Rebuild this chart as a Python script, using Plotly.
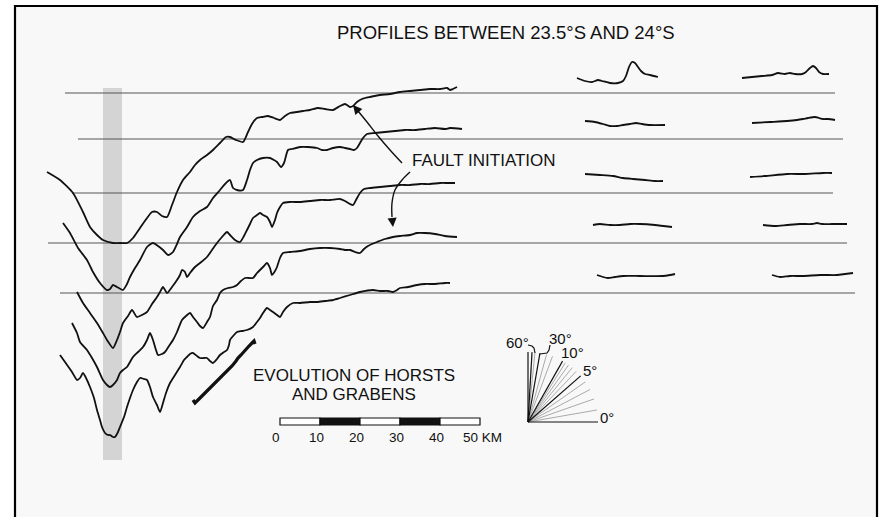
"""
Bathymetric profiles across the trench, 23.5S-24S, with fault initiation notes.
"""
import numpy as np
import plotly.graph_objects as go

# distance along profile (km) and relief above the profile's reference line (m)
P1_KM = [-58.25, -55, -51.75, -49.25, -47.5, -45.75, -44.25, -41.75, -40, -38.25, -36.75, -35, -33.25, -32,
         -30.75, -29.5, -28.25, -27, -25.75, -24.25, -22.5, -21.25, -20, -18.25, -16.75, -15, -13.5, -12.5,
         -11, -9.25, -8, -7, -5.75, -4.5, -3, -1.5, 0, 1.25, 2.5, 4.25, 5.75, 7.5, 9.5, 11.25, 13.25, 15,
         16.25, 17.5, 18.25, 19.25, 20.5, 22.5, 25, 27.5, 30, 32.5, 35, 37.5, 40, 41.75, 42.5, 43.25, 44.25]
P1_M = [-1975, -2175, -2500, -2975, -3350, -3550, -3675, -3750, -3750, -3750, -3625, -3375, -3125, -2975,
        -2975, -3075, -3100, -2800, -2475, -2175, -1975, -1800, -1675, -1550, -1425, -1250, -1100, -1100,
        -1175, -1225, -975, -775, -625, -600, -575, -625, -675, -575, -500, -475, -450, -425, -375, -400,
        -425, -325, -275, -350, -325, -225, -150, -100, -50, -25, 25, 50, 75, 100, 100, 125, 75, 100, 150]

P2_KM = [-54.25, -52.5, -50.5, -48.25, -46.75, -45, -43.25, -42.5, -41.75, -40.75, -39.25, -38.25, -37.5,
         -36.25, -35, -33.25, -31.75, -30.5, -29.25, -28, -26.75, -25.75, -25, -23.25, -21.75, -20, -18.25,
         -16.75, -15, -13.75, -12.5, -11.75, -10.75, -9.25, -8.25, -7.5, -6.75, -5.75, -4.25, -2.5, -1.5,
         -0.75, 0.25, 1, 2, 3, 5, 7, 9.25, 10.5, 11.75, 13.25, 15, 16.25, 17.5, 18.5, 19.25, 20, 20.75,
         21.75, 23.75, 26.25, 28.75, 31.25, 33.75, 36.25, 38.75, 41.25, 42.5, 45.5]
P2_M = [-2100, -2350, -2725, -3025, -3325, -3600, -3775, -3750, -3650, -3700, -3775, -3625, -3450, -3225,
        -3025, -2700, -2600, -2675, -2775, -2900, -2825, -2625, -2450, -2200, -1950, -1800, -1700, -1475,
        -1275, -1125, -1025, -1225, -1275, -1275, -1025, -775, -600, -525, -475, -475, -525, -575, -700,
        -600, -275, -250, -200, -200, -225, -275, -275, -225, -200, -225, -250, -275, -225, -100, 25, 125,
        150, 175, 200, 225, 225, 250, 275, 250, 275, 250]

P3_KM = [-50.75, -49.25, -47.5, -45.75, -44.25, -43.25, -41.75, -40.75, -40, -39.25, -38, -37, -35.75,
         -34.5, -33.25, -32, -30.75, -30, -29.25, -28.75, -28.25, -27, -25.75, -25, -24.5, -23.75, -23.25,
         -22.5, -21.25, -20, -18.25, -17, -15.75, -14.5, -13.25, -12.5, -11.25, -10, -9, -8.25, -7.5, -6.75,
         -5.75, -5, -4.25, -3.25, -2.5, -2, -1.25, -0.75, 0, 0.75, 2.5, 5, 7.5, 10, 12.5, 15, 16.25, 17.5,
         18.25, 19, 20, 21, 22.5, 25, 27.5, 30, 32.5, 35, 37.5, 40, 42, 43.75]
P3_M = [-2475, -2750, -3000, -3250, -3500, -3675, -3875, -3675, -3475, -3250, -3075, -2925, -3100, -3050,
        -2975, -2775, -2600, -2475, -2350, -2425, -2500, -2350, -2175, -2050, -1925, -1975, -2100, -2000,
        -1850, -1750, -1600, -1425, -1250, -1100, -975, -1050, -1175, -1225, -1075, -925, -775, -625, -550,
        -500, -550, -600, -725, -850, -675, -500, -350, -250, -225, -225, -200, -175, -175, -150, -200,
        -275, -300, -175, 0, 100, 125, 150, 175, 200, 200, 225, 225, 250, 250, 250]

P4_KM = [-52, -50.75, -50, -48.25, -47, -45.75, -44.25, -43.25, -42.5, -41.75, -40.75, -40, -39.25, -38.25,
         -37.5, -36.75, -35.5, -34.25, -33.25, -32.5, -31.75, -31, -30.5, -29.5, -28.75, -27.75, -26.75,
         -25.75, -24.5, -23.5, -22.5, -21.75, -20.75, -20, -19.25, -18.25, -17.5, -16.75, -15.75, -15,
         -14.25, -13, -11.75, -10.75, -9.75, -8.75, -7.75, -6.75, -5.75, -5, -4, -3.25, -2.5, -2, -1.25,
         -0.75, 0, 0.75, 2.5, 5, 7.5, 10, 12.5, 15, 16.25, 17.5, 18.75, 20, 21, 22, 23, 24.25, 26.25, 28.25,
         30, 32.5, 34.25, 36.25, 38.75, 41.25, 44.25]
P4_M = [-2000, -2250, -2475, -2675, -2875, -3100, -3425, -3550, -3600, -3550, -3425, -3250, -3175, -3100,
        -2975, -2850, -2725, -2600, -2425, -2250, -2425, -2675, -2800, -2775, -2725, -2575, -2425, -2225,
        -1925, -1825, -1750, -1850, -1975, -2075, -2125, -1975, -1850, -1575, -1425, -1250, -1175, -1125,
        -1100, -1050, -950, -875, -875, -875, -750, -675, -575, -500, -625, -800, -700, -600, -375, -250,
        -225, -200, -150, -125, -125, -150, -175, -175, -225, -250, -150, -75, -25, 25, 100, 150, 175, 200,
        250, 250, 225, 175, 150]

P5_KM = [-55, -53.75, -52, -50.75, -50, -49.25, -48.25, -47.5, -46.5, -45.75, -45, -44.5, -43.75, -43,
         -42.5, -41.75, -41.25, -40.5, -40, -39, -38.25, -37.5, -36.75, -35.75, -35, -34, -33.25, -32.5,
         -31.75, -30.75, -30, -29.25, -28.5, -27.5, -26.25, -25, -24, -23.25, -22.5, -21.75, -20.75, -20,
         -19, -18.25, -17.5, -16.75, -15.75, -15, -14, -13.25, -12.75, -12.5, -11.5, -10.75, -9.5, -8.25,
         -6.75, -5.75, -5, -4.25, -3.25, -2.5, -1.75, -0.75, 0, 0.75, 1.75, 3.25, 5, 7.5, 9.25, 11.25, 13.25,
         15, 17.5, 20, 23.25, 25, 27, 28.25, 29.25, 30, 32, 34.25, 36.25, 38.75, 41.25, 42.5]
P5_M = [-1550, -1725, -1975, -2175, -2125, -2000, -2175, -2350, -2625, -2925, -3175, -3350, -3500, -3550,
        -3550, -3600, -3600, -3475, -3350, -3100, -2850, -2625, -2425, -2225, -2125, -2150, -2175, -2350,
        -2600, -2800, -2975, -2750, -2500, -2250, -2050, -1850, -1675, -1600, -1525, -1500, -1575, -1625,
        -1625, -1625, -1700, -1750, -1650, -1550, -1475, -1425, -1300, -1175, -1050, -975, -950, -925,
        -850, -725, -625, -500, -375, -425, -475, -550, -600, -475, -350, -250, -250, -225, -225, -200,
        -175, -125, -50, 25, 75, 50, 50, 25, 75, 125, 150, 200, 225, 225, 250, 250]

# short profiles further offshore, two per row (A = inner, B = outer)
R1A_KM = [74.25, 76.25, 78, 79.5, 80.5, 82.5, 84.5, 85.75, 86.5, 87.25, 88, 88.75, 89.5, 90.25, 91.25, 92.5, 94.5]
R1A_M = [375, 300, 275, 325, 300, 250, 250, 300, 425, 650, 775, 750, 650, 550, 475, 450, 400]
R1B_KM = [115.5, 118, 120.5, 123, 124.5, 126.25, 127.5, 128.75, 130.5, 131.5, 132.5, 133.25, 134, 134.75, 135.75, 137.25]
R1B_M = [375, 400, 425, 450, 500, 475, 500, 475, 475, 525, 625, 675, 625, 525, 475, 475]
R2A_KM = [76.25, 78.75, 80.75, 82.5, 84.25, 85.75, 87.5, 89, 90.5, 92.5, 96.25]
R2A_M = [450, 425, 375, 325, 325, 350, 375, 400, 375, 350, 350]
R2B_KM = [118, 122.5, 126.75, 129.25, 130.75, 132, 133.75, 134.75, 135.75, 137, 138.75]
R2B_M = [400, 425, 450, 475, 500, 525, 550, 525, 500, 500, 475]
R3A_KM = [76.25, 80, 83.25, 85.75, 88.25, 91.25, 93.75, 95.75]
R3A_M = [475, 450, 425, 375, 350, 325, 300, 300]
R3B_KM = [117.5, 121.25, 126.75, 131.25, 135.75, 138]
R3B_M = [400, 425, 475, 475, 500, 500]
R4A_KM = [78.25, 80, 82.5, 85, 87.5, 90, 93.75, 98]
R4A_M = [450, 475, 450, 450, 475, 475, 450, 400]
R4B_KM = [120.75, 123.75, 126.75, 130, 133, 134.25, 135.5, 138, 141.75]
R4B_M = [450, 425, 450, 475, 475, 500, 475, 475, 475]
R5A_KM = [79.25, 80.75, 82, 83.75, 85.75, 90, 95.75, 97.5, 98.75]
R5A_M = [450, 400, 375, 400, 425, 425, 425, 450, 475]
R5B_KM = [123, 125, 127.5, 130.75, 135, 139.25, 141.25, 143.25]
R5B_M = [450, 400, 425, 425, 450, 450, 475, 500]

# reference line of each profile
BASE_START_KM = [-53.75, -50.5, -52, -58, -55]
BASE_END_KM = [138.75, 140.75, 138.25, 141.75, 143.75]

# slope fan: true slope angles, vertical exaggeration 10
FAN_BLACK_DEG = [0, 5, 10, 30, 60, 90]
FAN_GRAY_DEG = [1, 2, 3, 4, 6, 7, 8, 9, 15, 20, 45]
FAN_LABELS = ["0°", "5°", "10°", "30°", "60°"]
VERT_EXAG = 10

SCALE_KM = [0, 10, 20, 30, 40, 50]
SCALE_LABELS = ["0", "10", "20", "30", "40", "50 KM"]

# hand-drawn arrows (km, m)
ARROW_UP_KM = [30.5, 27.5, 24.5, 21.75, 19.5, 18.25]
ARROW_UP_M = [-4075, -3750, -3400, -3050, -2775, -2625]
ARROW_DOWN_KM = [32.5, 30.5, 28.75, 28, 28, 28.25]
ARROW_DOWN_M = [-4300, -4500, -4750, -5075, -5425, -5675]
HORST_KM = [-21.75, -21.25, -20.25, -19, -17.75, -16.5, -15.25, -14, -13, -12, -11, -10.5, -9.75, -8.75,
            -7.75, -7, -6.5, -6.25]
HORST_M = [-10000, -10075, -9975, -9850, -9725, -9625, -9500, -9375, -9250, -9150, -9025, -8950, -8875,
           -8750, -8650, -8575, -8525, -8600]

# ---- layout constants ----
ROW_BASE_M = [-2325, -3475, -4825, -6075, -7325]   # where each row's reference line sits
X_RANGE = [-70, 150.25]
Y_RANGE = [-12925, 0]
W, H = 881, 517
FONT = "Liberation Sans, Arial, sans-serif"
INK = "#111111"

profiles = [(P1_KM, P1_M), (P2_KM, P2_M), (P3_KM, P3_M), (P4_KM, P4_M), (P5_KM, P5_M)]
offshore = [
    [(R1A_KM, R1A_M), (R1B_KM, R1B_M)],
    [(R2A_KM, R2A_M), (R2B_KM, R2B_M)],
    [(R3A_KM, R3A_M), (R3B_KM, R3B_M)],
    [(R4A_KM, R4A_M), (R4B_KM, R4B_M)],
    [(R5A_KM, R5A_M), (R5B_KM, R5B_M)],
]


def label(text, px, py, size, **kw):
    """Text placed by pixel position on the page."""
    fig.add_annotation(x=px / W, y=1 - py / H, xref="paper", yref="paper", text=text, showarrow=False,
                       xanchor="center", yanchor="middle", font=dict(family=FONT, size=size, color=INK), **kw)


fig = go.Figure()

# frame and light paper tone
fig.add_shape(type="rect", xref="paper", yref="paper", x0=15 / W, x1=877 / W, y0=-0.05, y1=1 - 6 / H,
              line=dict(color="#000000", width=2.2), fillcolor="#f8f8f8", layer="below")

# gray band marking the trench axis
fig.add_shape(type="rect", xref="x", yref="y", x0=-44.25, x1=-39.5, y0=-11500, y1=-2200,
              line=dict(width=0), fillcolor="#d4d4d4", layer="below")

for i, base in enumerate(ROW_BASE_M):
    fig.add_trace(go.Scatter(x=[BASE_START_KM[i], BASE_END_KM[i]], y=[base, base], mode="lines",
                             line=dict(color="#555555", width=1), hoverinfo="skip"))

for i, (xs, ms) in enumerate(profiles):
    fig.add_trace(go.Scatter(x=xs, y=np.array(ms) + ROW_BASE_M[i], mode="lines",
                             line=dict(color=INK, width=1.8, shape="spline", smoothing=0.6),
                             hoverinfo="skip"))

for i, pair in enumerate(offshore):
    for xs, ms in pair:
        fig.add_trace(go.Scatter(x=xs, y=np.array(ms) + ROW_BASE_M[i], mode="lines",
                                 line=dict(color=INK, width=1.8, shape="spline", smoothing=0.6),
                                 hoverinfo="skip"))

# arrows
for xs, ms in [(ARROW_UP_KM, ARROW_UP_M), (ARROW_DOWN_KM, ARROW_DOWN_M)]:
    fig.add_trace(go.Scatter(x=xs[:-1], y=ms[:-1], mode="lines",
                             line=dict(color=INK, width=1.4, shape="spline"), hoverinfo="skip"))
    fig.add_annotation(x=xs[-1], y=ms[-1], ax=xs[-2], ay=ms[-2], xref="x", yref="y", axref="x", ayref="y",
                       text="", showarrow=True, arrowhead=2, arrowsize=1.3, arrowwidth=1.4, arrowcolor=INK)

fig.add_trace(go.Scatter(x=HORST_KM, y=HORST_M, mode="lines",
                         line=dict(color=INK, width=3.2), hoverinfo="skip"))

# scale bar
bar_top, bar_bot = -10450, -10625
for k in range(len(SCALE_KM) - 1):
    fig.add_shape(type="rect", xref="x", yref="y", x0=SCALE_KM[k], x1=SCALE_KM[k + 1], y0=bar_bot, y1=bar_top,
                  line=dict(color=INK, width=1.2), fillcolor=INK if k % 2 else "white")
for km, lab in zip(SCALE_KM, SCALE_LABELS):
    is_last = lab.endswith("KM")
    fig.add_annotation(x=km - 1, y=-10925, xref="x", yref="y", text=lab, showarrow=False,
                       xanchor="left" if is_last else "center", yanchor="middle",
                       xshift=-15 if is_last else 0,
                       font=dict(family=FONT, size=13.5, color=INK))

# slope fan (angles drawn with vertical exaggeration)
fan_x0, fan_y0 = 62, -10550
fan_r_km, fan_r_m = 17.5, 1750
for deg_list, color, width in [(FAN_GRAY_DEG, "#a0a0a0", 0.9), (FAN_BLACK_DEG, INK, 1.2)]:
    for d in deg_list:
        shown = np.degrees(np.arctan(VERT_EXAG * np.tan(np.radians(d)))) if d < 90 else 90.0
        rad = np.radians(shown)
        fig.add_trace(go.Scatter(x=[fan_x0, fan_x0 + fan_r_km * np.cos(rad)],
                                 y=[fan_y0, fan_y0 + fan_r_m * np.sin(rad)], mode="lines",
                                 line=dict(color=color, width=width), hoverinfo="skip"))

# little braces tying 60 and 30 labels to their lines
fig.add_trace(go.Scatter(x=[62, 63, 63.5, 63.75], y=[-8625, -8650, -8700, -8825], mode="lines",
                         line=dict(color=INK, width=1.2), hoverinfo="skip"))
fig.add_trace(go.Scatter(x=[67.5, 67.25, 66.75, 65], y=[-8625, -8750, -8825, -8850], mode="lines",
                         line=dict(color=INK, width=1.2), hoverinfo="skip"))

fan_label_pos = [(607, 417), (590, 370), (572, 352), (560, 338), (517, 342)]
for lab, (px, py) in zip(FAN_LABELS, fan_label_pos):
    label(lab, px, py, 15)

# text
label("PROFILES BETWEEN 23.5°S AND 24°S", 505.5, 32, 18.5)
label("FAULT INITIATION", 484, 160, 17)
label("EVOLUTION OF HORSTS", 354, 375, 17)
label("AND GRABENS", 353.5, 394, 17)

fig.update_layout(
    width=W, height=H,
    margin=dict(l=0, r=0, t=0, b=0),
    paper_bgcolor="white", plot_bgcolor="rgba(0,0,0,0)",
    showlegend=False, hovermode=False,
    xaxis=dict(range=X_RANGE, visible=False, fixedrange=True),
    yaxis=dict(range=Y_RANGE, visible=False, fixedrange=True),
)

# page body margin would push the figure 8px off; drop it
fig.write_html("out.html", config={"displayModeBar": False},
               post_script="document.body.style.margin='0';")
